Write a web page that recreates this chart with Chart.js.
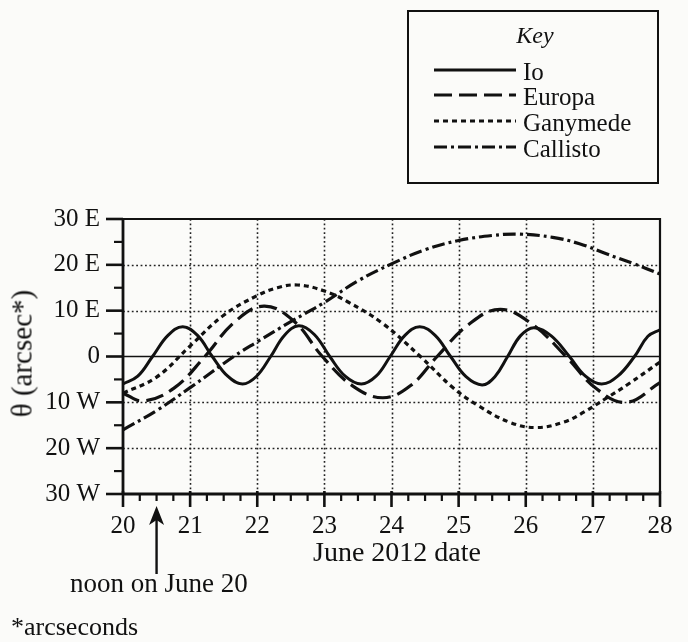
<!DOCTYPE html>
<html>
<head>
<meta charset="utf-8">
<script src="https://cdn.jsdelivr.net/npm/chart.js@4.4.1/dist/chart.umd.min.js"></script>
<style>
  html, body { margin: 0; padding: 0; background: #fbfbf9; }
  #wrap { position: relative; width: 688px; height: 642px; overflow: hidden;
          font-family: "Liberation Serif", "Times New Roman", serif; color: #111; }
  #c { position: absolute; left: 0; top: 0; }
  .t { position: absolute; white-space: nowrap; line-height: 1; }
</style>
</head>
<body>
<div id="wrap">
  <canvas id="c" width="688" height="642"></canvas>
  <div id="keybox" style="position:absolute;left:407px;top:10px;width:252px;height:174px;border:2px solid #111;box-sizing:border-box;"></div>
  <div class="t" style="left:407px;top:23px;width:256px;text-align:center;font-size:24px;font-style:italic;">Key</div>
  <div id="keyrows"></div>
  <div class="t" style="left:-78px;top:339px;width:200px;text-align:center;font-size:29px;transform:rotate(-90deg);">θ (arcsec*)</div>
  <div class="t" style="left:313px;top:538px;font-size:28px;">June 2012 date</div>
  <div class="t" style="left:70px;top:570px;font-size:27px;">noon on June 20</div>
  <div class="t" style="left:11px;top:614px;font-size:26px;">*arcseconds</div>
</div>
<script>
// ---------------- data ----------------
const seriesNames = ['Io', 'Europa', 'Ganymede', 'Callisto'];

const ioDates  = [20.00, 20.22, 20.44, 20.67, 20.89, 21.11, 21.33, 21.56, 21.78, 21.99, 22.20, 22.41, 22.62, 22.85, 23.08, 23.31, 23.55, 23.77, 23.98, 24.20, 24.42, 24.65, 24.88, 25.11, 25.35, 25.54, 25.73, 25.92, 26.12, 26.38, 26.65, 26.89, 27.13, 27.37, 27.62, 27.82, 28.00];
const ioValues = [-6.0, -4.3, 0.0, 4.6, 6.5, 4.6, 0.0, -4.3, -6.0, -4.3, 0.0, 4.7, 6.7, 4.8, 0.0, -4.3, -6.0, -4.3, 0.0, 4.6, 6.5, 4.6, 0.0, -4.4, -6.2, -4.4, 0.0, 4.5, 6.3, 4.5, 0.0, -4.3, -6.0, -4.3, 0.0, 4.4, 5.8];

const europaDates  = [20.00, 20.30, 20.76, 21.22, 21.66, 22.10, 22.54, 22.97, 23.42, 23.87, 24.28, 24.68, 25.15, 25.62, 26.10, 26.60, 27.05, 27.50, 28.00];
const europaValues = [-8.0, -9.7, -6.9, 0.0, 7.5, 11.0, 7.8, 0.0, -6.4, -9.0, -6.4, 0.0, 7.0, 10.3, 7.0, 0.0, -7.0, -10.0, -5.7];

const ganymedeDates  = [20.00, 20.50, 21.00, 21.50, 22.00, 22.30, 22.60, 23.00, 23.34, 23.86, 24.43, 24.90, 25.29, 25.77, 26.16, 26.57, 26.87, 27.20, 27.54, 28.00];
const ganymedeValues = [-8.0, -4.5, 2.3, 9.0, 13.3, 15.0, 15.6, 14.3, 12.0, 7.3, 0.0, -6.6, -10.7, -14.4, -15.5, -14.3, -12.1, -9.1, -5.9, -1.2];

const callistoDates  = [20.0, 20.5, 21.0, 21.65, 22.0, 22.5, 23.0, 23.5, 24.0, 24.5, 25.0, 25.5, 25.9, 26.4, 26.8, 27.2, 27.6, 28.0];
const callistoValues = [-16.0, -11.8, -6.8, 0.0, 3.2, 7.6, 11.8, 16.5, 20.2, 23.3, 25.3, 26.4, 26.7, 26.0, 24.6, 22.4, 20.3, 18.0];

const xTickValues = [20, 21, 22, 23, 24, 25, 26, 27, 28];
const xTickLabels = ['20', '21', '22', '23', '24', '25', '26', '27', '28'];
const yTickValues = [-30, -20, -10, 0, 10, 20, 30];
const yTickLabels = ['30 W', '20 W', '10 W', '0', '10 E', '20 E', '30 E'];
const noonDate = 20.5;

// ---------------- styles ----------------
const INK = '#111111';
const dashes = { Io: [], Europa: [18, 7], Ganymede: [5, 4], Callisto: [13, 4, 3, 4] };

function pts(ds, vs) { return ds.map((d, i) => ({ x: d, y: vs[i] })); }

const seriesData = {
  Io: pts(ioDates, ioValues),
  Europa: pts(europaDates, europaValues),
  Ganymede: pts(ganymedeDates, ganymedeValues),
  Callisto: pts(callistoDates, callistoValues)
};

// ---------------- HTML key ----------------
(function buildKey() {
  const rowsEl = document.getElementById('keyrows');
  const lineY = [70, 95, 121, 147];
  seriesNames.forEach((name, i) => {
    const svgNS = 'http://www.w3.org/2000/svg';
    const svg = document.createElementNS(svgNS, 'svg');
    svg.setAttribute('width', '82'); svg.setAttribute('height', '10');
    svg.style.position = 'absolute';
    svg.style.left = '434px';
    svg.style.top = (lineY[i] - 5) + 'px';
    const ln = document.createElementNS(svgNS, 'line');
    ln.setAttribute('x1', '0'); ln.setAttribute('y1', '5');
    ln.setAttribute('x2', '82'); ln.setAttribute('y2', '5');
    ln.setAttribute('stroke', INK); ln.setAttribute('stroke-width', '3.2');
    if (dashes[name].length) ln.setAttribute('stroke-dasharray', dashes[name].join(' '));
    svg.appendChild(ln);
    rowsEl.appendChild(svg);
    const tx = document.createElement('div');
    tx.className = 't';
    tx.style.left = '523px';
    tx.style.top = (lineY[i] + 10 - 21) + 'px';
    tx.style.fontSize = '25px';
    tx.textContent = name;
    rowsEl.appendChild(tx);
  });
})();

// ---------------- decoration plugin (grid, frame, ticks, arrow) ----------------
function seg(ctx, x1, y1, x2, y2) { ctx.beginPath(); ctx.moveTo(x1, y1); ctx.lineTo(x2, y2); ctx.stroke(); }

const decor = {
  id: 'decor',
  beforeDatasetsDraw(chart) {
    const { ctx, chartArea: a, scales: { x, y } } = chart;
    ctx.save();
    ctx.strokeStyle = '#222';
    ctx.lineWidth = 1.6;
    ctx.setLineDash([1.8, 2.6]);
    xTickValues.forEach(v => {
      if (v === x.min || v === x.max) return;
      const px = Math.round(x.getPixelForValue(v)) + 0.5;
      seg(ctx, px, a.top, px, a.bottom);
    });
    yTickValues.forEach(v => {
      if (v === y.min || v === y.max || v === 0) return;
      const py = Math.round(y.getPixelForValue(v)) + 0.5;
      seg(ctx, a.left, py, a.right, py);
    });
    ctx.setLineDash([]);
    ctx.strokeStyle = INK;
    ctx.lineWidth = 1.7;
    const p0 = y.getPixelForValue(0);
    seg(ctx, a.left, p0, a.right, p0);
    ctx.restore();
  },
  afterDatasetsDraw(chart) {
    const { ctx, chartArea: a, scales: { x, y } } = chart;
    ctx.save();
    ctx.strokeStyle = INK;
    ctx.fillStyle = INK;
    ctx.setLineDash([]);
    // frame
    ctx.lineWidth = 2.2;
    ctx.beginPath();
    ctx.moveTo(a.left, a.top); ctx.lineTo(a.right, a.top); ctx.lineTo(a.right, a.bottom);
    ctx.stroke();
    ctx.lineWidth = 2.8;
    seg(ctx, a.left, a.top - 1, a.left, a.bottom + 1);
    seg(ctx, a.left - 1, a.bottom, a.right + 1, a.bottom);
    // y ticks (major every 10, minor every 5), outside on the left
    for (let v = y.min; v <= y.max; v += 5) {
      const py = y.getPixelForValue(v);
      const major = v % 10 === 0;
      ctx.lineWidth = major ? 2.6 : 2.2;
      seg(ctx, a.left - (major ? 17 : 9), py, a.left, py);
    }
    // x ticks (major each day, minor each quarter day), hanging below
    for (let i = 0; i <= (x.max - x.min) * 4; i++) {
      const d = x.min + i * 0.25;
      const px = x.getPixelForValue(d);
      const major = i % 4 === 0;
      ctx.lineWidth = major ? 2.6 : 2.2;
      seg(ctx, px, a.bottom - (major ? 3 : 0), px, a.bottom + (major ? 13 : 7));
    }
    // arrow for noon on June 20
    const ax = x.getPixelForValue(noonDate);
    ctx.lineWidth = 2.4;
    seg(ctx, ax, 574, ax, 518);
    ctx.beginPath();
    ctx.moveTo(ax, 506);
    ctx.lineTo(ax - 7.5, 525);
    ctx.lineTo(ax, 520);
    ctx.lineTo(ax + 7.5, 525);
    ctx.closePath();
    ctx.fill();
    ctx.restore();
  }
};

// ---------------- chart ----------------
const tickFont = { family: '"Liberation Serif", "Times New Roman", serif', size: 25 };

new Chart(document.getElementById('c'), {
  type: 'line',
  data: {
    datasets: seriesNames.map(name => ({
      label: name,
      data: seriesData[name],
      borderColor: INK,
      borderWidth: name === 'Io' ? 3 : 3.2,
      borderDash: dashes[name],
      borderCapStyle: 'butt',
      pointRadius: 0,
      pointHoverRadius: 0,
      fill: false,
      tension: 0.4
    }))
  },
  options: {
    responsive: false,
    animation: false,
    events: [],
    layout: { padding: { top: 219, right: 28, bottom: 0, left: 0 } },
    plugins: { legend: { display: false }, tooltip: { enabled: false } },
    scales: {
      x: {
        type: 'linear',
        position: 'bottom',
        min: 20, max: 28,
        grid: { display: false, drawTicks: true, tickLength: 12 },
        border: { display: false },
        afterBuildTicks: s => { s.ticks = xTickValues.map(v => ({ value: v })); },
        ticks: {
          autoSkip: false, maxRotation: 0, padding: 5,
          color: INK, font: tickFont,
          callback: v => { const i = xTickValues.indexOf(v); return i >= 0 ? xTickLabels[i] : ''; }
        },
        afterFit: s => { s.height = 642 - 494; }
      },
      y: {
        type: 'linear',
        min: -30, max: 30,
        grid: { display: false, drawTicks: true, tickLength: 16 },
        border: { display: false },
        afterBuildTicks: s => { s.ticks = yTickValues.map(v => ({ value: v })); },
        ticks: {
          padding: 7, color: INK, font: tickFont,
          callback: v => { const i = yTickValues.indexOf(v); return i >= 0 ? yTickLabels[i] : ''; }
        },
        afterFit: s => { s.width = 123; }
      }
    }
  },
  plugins: [decor]
});
</script>
</body>
</html>
